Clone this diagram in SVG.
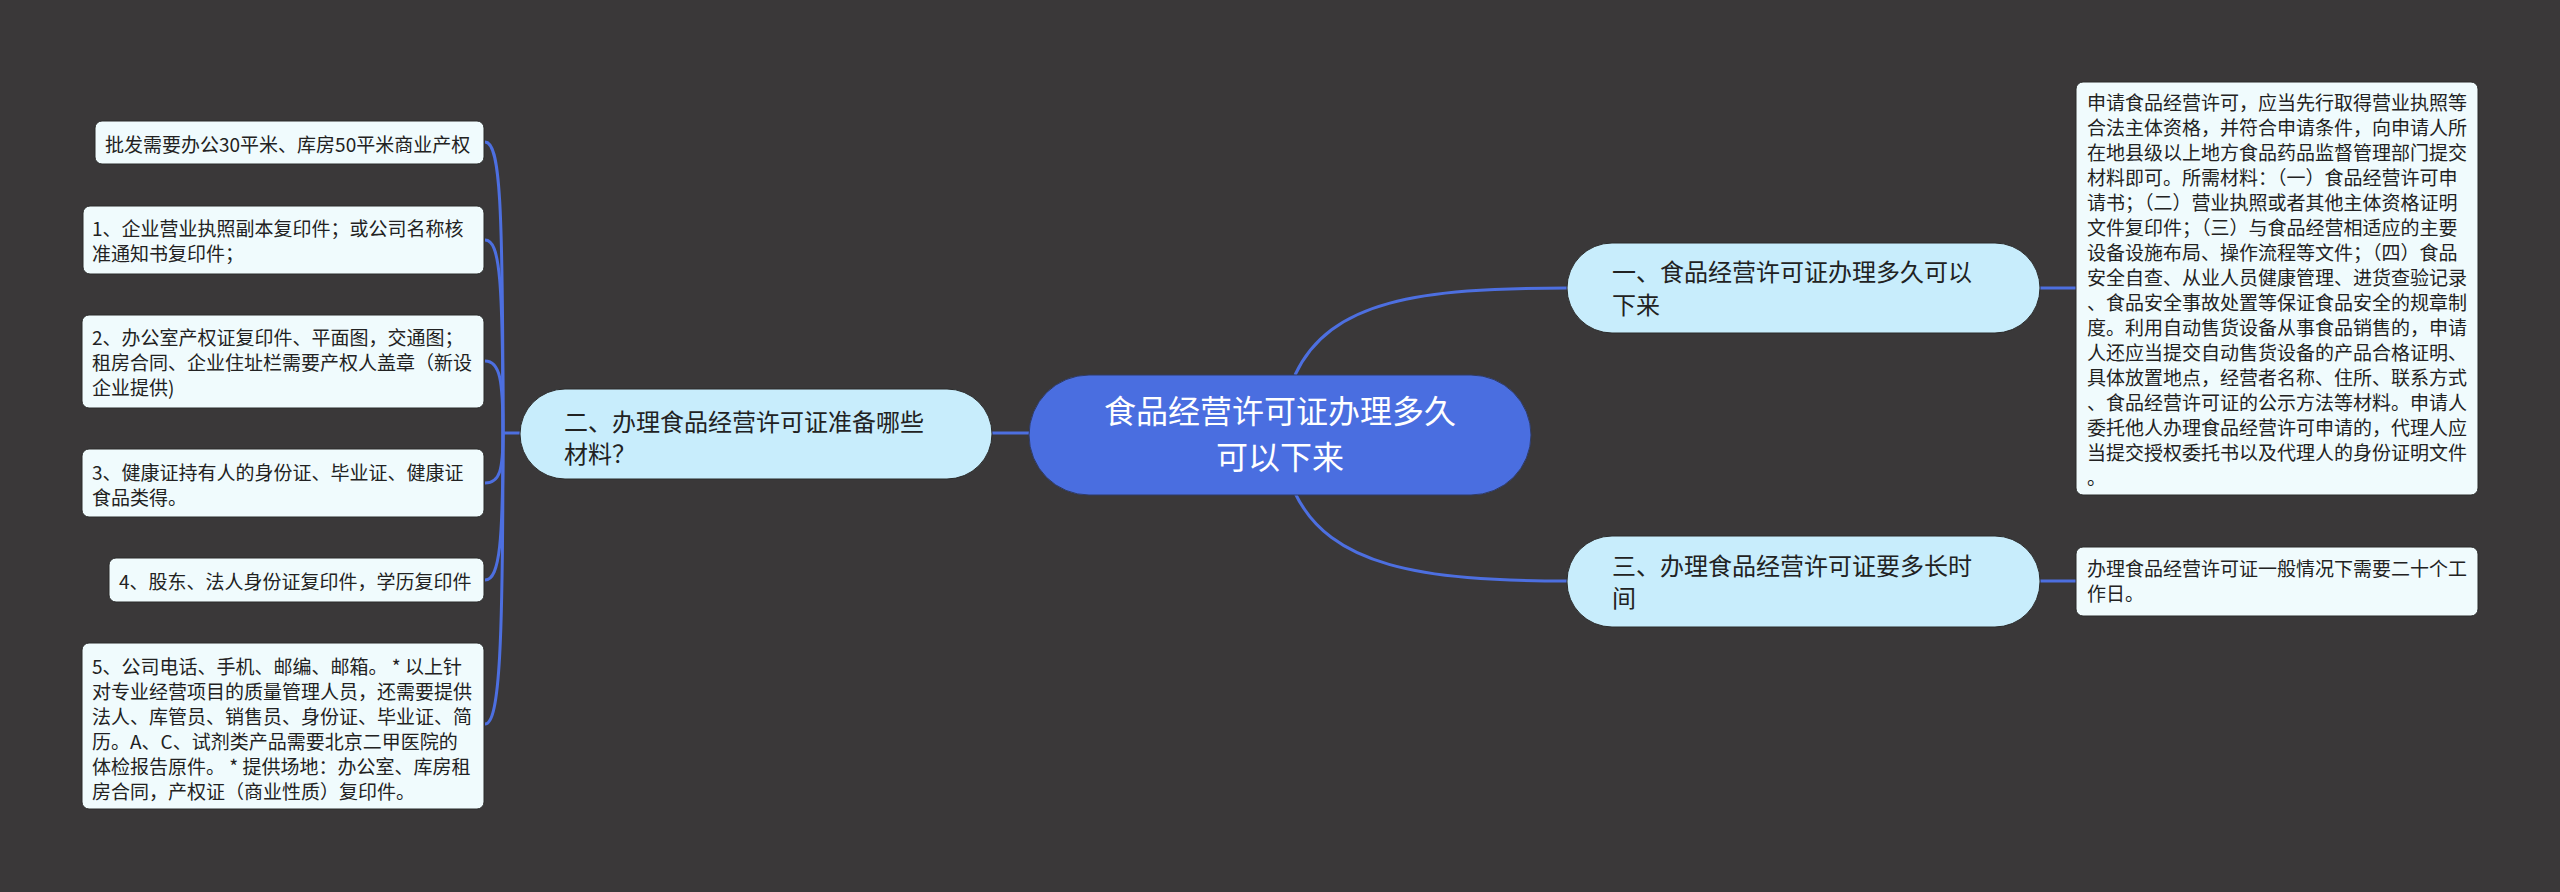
<svg xmlns="http://www.w3.org/2000/svg" width="2560" height="892" viewBox="0 0 2560 892">
<style>
.bg{fill:#3a3839}
.conn{fill:none;stroke:#4d6fe0;stroke-width:3}
.root{fill:#4a6ee0;stroke:#2f3b66;stroke-width:1}
.br{fill:#c8edfc;stroke:#2a2a2a;stroke-width:1}
.leaf{fill:#f0fbfd;stroke:#2a2a2a;stroke-width:1}
text{font-family:"Noto Sans CJK SC","Noto Sans",sans-serif;fill:#222}
.rt{font-size:32px;fill:#ffffff;text-anchor:middle}
.bt{font-size:24px}
.lt{font-size:19px}
</style>
<rect class="bg" x="0" y="0" width="2560" height="892"/>
<g id="connectors">
<path class="conn" d="M992,433 L1029,433"/>
<path class="conn" d="M1295,375 C1330,300 1420,288 1567,288"/>
<path class="conn" d="M1295,493 C1330,566 1420,581 1567,581"/>
<path class="conn" d="M2040,288 L2076,288"/>
<path class="conn" d="M2040,581 L2076,581"/>
<path class="conn" d="M520,433 L503,433"/>
<path class="conn" d="M503,433 C503,200 500,142 485,142"/>
<path class="conn" d="M503,433 C503,280 500,240 485,240"/>
<path class="conn" d="M503,433 C503,380 500,361 485,361"/>
<path class="conn" d="M503,433 C503,470 500,483 485,483"/>
<path class="conn" d="M503,433 C503,540 500,580 485,580"/>
<path class="conn" d="M503,433 C503,640 500,724 485,724"/>
</g>
<g id="root">
<rect class="root" x="1029" y="375" width="502" height="120" rx="60"/>
<text class="rt" x="1280" y="423">食品经营许可证办理多久</text>
<text class="rt" x="1280" y="469">可以下来</text>
</g>
<g id="branch2">
<rect class="br" x="520" y="389" width="472" height="90" rx="45"/>
<text class="bt" x="564" y="431">二、办理食品经营许可证准备哪些</text>
<text class="bt" x="564" y="463">材料？</text>
</g>
<g id="branch1">
<rect class="br" x="1567" y="243" width="473" height="90" rx="45"/>
<text class="bt" x="1612" y="281">一、食品经营许可证办理多久可以</text>
<text class="bt" x="1612" y="314">下来</text>
</g>
<g id="branch3">
<rect class="br" x="1567" y="536" width="473" height="91" rx="45"/>
<text class="bt" x="1612" y="575">三、办理食品经营许可证要多长时</text>
<text class="bt" x="1612" y="607">间</text>
</g>
<g id="leaf-r1">
<rect class="leaf" x="2076" y="82" width="402" height="413" rx="7"/>
<text class="lt" x="2087" y="110">申请食品经营许可，应当先行取得营业执照等</text>
<text class="lt" x="2087" y="135">合法主体资格，并符合申请条件，向申请人所</text>
<text class="lt" x="2087" y="160">在地县级以上地方食品药品监督管理部门提交</text>
<text class="lt" x="2087" y="185">材料即可。所需材料：（一）食品经营许可申</text>
<text class="lt" x="2087" y="210">请书；（二）营业执照或者其他主体资格证明</text>
<text class="lt" x="2087" y="235">文件复印件；（三）与食品经营相适应的主要</text>
<text class="lt" x="2087" y="260">设备设施布局、操作流程等文件；（四）食品</text>
<text class="lt" x="2087" y="285">安全自查、从业人员健康管理、进货查验记录</text>
<text class="lt" x="2087" y="310">、食品安全事故处置等保证食品安全的规章制</text>
<text class="lt" x="2087" y="335">度。利用自动售货设备从事食品销售的，申请</text>
<text class="lt" x="2087" y="360">人还应当提交自动售货设备的产品合格证明、</text>
<text class="lt" x="2087" y="385">具体放置地点，经营者名称、住所、联系方式</text>
<text class="lt" x="2087" y="410">、食品经营许可证的公示方法等材料。申请人</text>
<text class="lt" x="2087" y="435">委托他人办理食品经营许可申请的，代理人应</text>
<text class="lt" x="2087" y="460">当提交授权委托书以及代理人的身份证明文件</text>
<text class="lt" x="2087" y="485">。</text>
</g>
<g id="leaf-r3">
<rect class="leaf" x="2076" y="547" width="402" height="69" rx="7"/>
<text class="lt" x="2087" y="576">办理食品经营许可证一般情况下需要二十个工</text>
<text class="lt" x="2087" y="601">作日。</text>
</g>
<g id="leaf-l0">
<rect class="leaf" x="95" y="121" width="389" height="43" rx="7"/>
<text class="lt" x="105" y="152">批发需要办公30平米、库房50平米商业产权</text>
</g>
<g id="leaf-l1">
<rect class="leaf" x="83" y="206" width="401" height="68" rx="7"/>
<text class="lt" x="92" y="236">1、企业营业执照副本复印件；或公司名称核</text>
<text class="lt" x="92" y="261">准通知书复印件；</text>
</g>
<g id="leaf-l2">
<rect class="leaf" x="82" y="315" width="402" height="93" rx="7"/>
<text class="lt" x="92" y="345">2、办公室产权证复印件、平面图，交通图；</text>
<text class="lt" x="92" y="370">租房合同、企业住址栏需要产权人盖章（新设</text>
<text class="lt" x="92" y="395">企业提供)</text>
</g>
<g id="leaf-l3">
<rect class="leaf" x="82" y="449" width="402" height="68" rx="7"/>
<text class="lt" x="92" y="480">3、健康证持有人的身份证、毕业证、健康证</text>
<text class="lt" x="92" y="505">食品类得。</text>
</g>
<g id="leaf-l4">
<rect class="leaf" x="109" y="558" width="375" height="44" rx="7"/>
<text class="lt" x="119" y="589">4、股东、法人身份证复印件，学历复印件</text>
</g>
<g id="leaf-l5">
<rect class="leaf" x="82" y="643" width="402" height="166" rx="7"/>
<text class="lt" x="92" y="674">5、公司电话、手机、邮编、邮箱。 * 以上针</text>
<text class="lt" x="92" y="699">对专业经营项目的质量管理人员，还需要提供</text>
<text class="lt" x="92" y="724">法人、库管员、销售员、身份证、毕业证、简</text>
<text class="lt" x="92" y="749">历。A、C、试剂类产品需要北京二甲医院的</text>
<text class="lt" x="92" y="774">体检报告原件。 * 提供场地：办公室、库房租</text>
<text class="lt" x="92" y="799">房合同，产权证（商业性质）复印件。</text>
</g>
</svg>
